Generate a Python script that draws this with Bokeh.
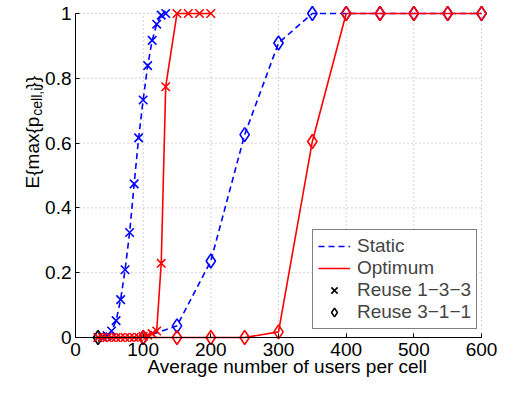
import math
from bokeh.plotting import figure
from bokeh.models import Range1d, Legend, LegendItem, Label, FixedTicker
from bokeh.embed import file_html
from bokeh.resources import INLINE

# ---- data ----
# Reuse 1-3-3 (crosses)
users_133_static = [33.3, 40.0, 46.7, 53.3, 60.0, 66.7, 73.3, 80.0, 86.7, 93.3,
                    100.0, 106.7, 113.3, 120.0, 126.7, 133.3]
static_133 = [0.0, 0.002, 0.006, 0.02, 0.052, 0.117, 0.209, 0.324, 0.474, 0.616,
              0.733, 0.839, 0.917, 0.967, 0.995, 1.0]
users_133_opt = [33.3, 40.0, 46.7, 53.3, 60.0, 66.7, 73.3, 80.0, 86.7, 93.3,
                 100.0, 106.7, 113.3, 120.0, 126.7, 133.3, 150.0, 166.7, 183.3, 200.0]
optimum_133 = [0.0, 0.0, 0.0, 0.0, 0.0, 0.0, 0.0, 0.0, 0.0, 0.001,
               0.003, 0.007, 0.012, 0.02, 0.229, 0.774, 1.0, 1.0, 1.0, 1.0]
# Reuse 3-1-1 (diamonds)
users_311 = [100, 150, 200, 250, 300, 350, 400, 450, 500, 550, 600]
static_311 = [0.0, 0.036, 0.236, 0.626, 0.909, 1.0, 1.0, 1.0, 1.0, 1.0, 1.0]
optimum_311 = [0.0, 0.0, 0.0, 0.0, 0.0175, 0.605, 1.0, 1.0, 1.0, 1.0, 1.0]
# legend marker points (placed at the first data point, drawn in black)
legend_x = [33.3]
legend_y = [0.0]

x_ticks = [0, 100, 200, 300, 400, 500, 600]
y_ticks = [0, 0.2, 0.4, 0.6, 0.8, 1]
y_tick_labels = ["0", "0.2", "0.4", "0.6", "0.8", "1"]

series_names = ["Static", "Optimum", "Reuse 1\u22123\u22123", "Reuse 3\u22121\u22121"]
x_label = "Average number of users per cell"

BLUE = "#0000ff"
RED = "#ff0000"
FONT = "Liberation Sans"
FS = "19px"

# The frame covers the whole canvas; axes are drawn at fixed locations (x=0, y=0)
p = figure(width=497, height=378,
           x_range=Range1d(-110.8, 623.6), y_range=Range1d(-0.1265, 1.0401),
           output_backend="svg", toolbar_location=None,
           min_border_left=0, min_border_right=0, min_border_top=0,
           min_border_bottom=0)
p.outline_line_color = None
p.xgrid.visible = False
p.ygrid.visible = False
p.background_fill_color = "white"
p.border_fill_color = "white"

# dotted grid from tick lists
grid_kw = dict(line_color="#a8a8a8", line_width=1, line_dash="1 3")
p.multi_line([[t, t] for t in x_ticks[1:]], [[0, 1] for _ in x_ticks[1:]], **grid_kw)
p.multi_line([[0, 600] for _ in y_ticks[1:]], [[t, t] for t in y_ticks[1:]], **grid_kw)

# axes
for ax in (p.xaxis[0], p.yaxis[0]):
    ax.axis_line_color = "black"
    ax.axis_line_width = 1
    ax.major_tick_line_color = "black"
    ax.major_tick_in = 4
    ax.major_tick_out = 0
    ax.minor_tick_line_color = None
    ax.major_label_text_font = FONT
    ax.major_label_text_font_size = FS
    ax.major_label_text_color = "black"
    ax.fixed_location = 0
p.xaxis.ticker = FixedTicker(ticks=x_ticks)
p.yaxis.ticker = FixedTicker(ticks=y_ticks)
p.xaxis.bounds = (0, 600)
p.yaxis.bounds = (0, 1)
p.xaxis.major_label_standoff = 5
p.yaxis.major_label_standoff = 4
p.yaxis.major_label_overrides = {t: l for t, l in zip(y_ticks, y_tick_labels)}

lw = 1.6
XS = 12
DS = 14
# static (blue, dashed)
s1 = p.line(users_133_static, static_133, line_color=BLUE, line_width=lw, line_dash="6 4")
p.scatter(users_133_static, static_133, marker="x", size=XS, line_color=BLUE, line_width=1.6)
p.line(users_311, static_311, line_color=BLUE, line_width=lw, line_dash="6 4")
p.scatter(users_311, static_311, marker="diamond", size=DS, line_color=BLUE, fill_color=None, line_width=1.6)

# legend markers (black)
lx = p.scatter(legend_x, legend_y, marker="x", size=XS - 2, line_color="black", line_width=1.6)
ld = p.scatter(legend_x, legend_y, marker="diamond", size=DS, line_color="black", fill_color=None, line_width=1.6)

# optimum (red, solid)
o1 = p.line(users_133_opt, optimum_133, line_color=RED, line_width=lw)
p.scatter(users_133_opt, optimum_133, marker="x", size=XS, line_color=RED, line_width=1.6)
p.line(users_311, optimum_311, line_color=RED, line_width=lw)
p.scatter(users_311, optimum_311, marker="diamond", size=DS, line_color=RED, fill_color=None, line_width=1.6)

legend = Legend(items=[LegendItem(label=series_names[0], renderers=[s1]),
                       LegendItem(label=series_names[1], renderers=[o1]),
                       LegendItem(label=series_names[2], renderers=[lx]),
                       LegendItem(label=series_names[3], renderers=[ld])],
                location=(312, 49), margin=0, padding=5, spacing=0,
                glyph_width=32, glyph_height=22, label_height=22, label_standoff=7,
                label_text_font=FONT, label_text_font_size=FS,
                border_line_color="black", border_line_width=1,
                background_fill_color="white", background_fill_alpha=1.0)
p.add_layout(legend)

# x axis label
p.add_layout(Label(x=313, y=-0.089, text=x_label, text_align="center",
                   text_baseline="alphabetic", text_font=FONT, text_font_size=FS,
                   text_color="black"))
# y axis label: E{max{p_cell,i}}
ang = math.pi / 2
p.add_layout(Label(x=-64.0, y=0.46, text="E{max{p", angle=ang, text_align="left",
                   text_baseline="alphabetic", text_font=FONT, text_font_size=FS,
                   text_color="black"))
p.add_layout(Label(x=-57.6, y=0.6845, text="cell,i", angle=ang, text_align="left",
                   text_baseline="alphabetic", text_font=FONT, text_font_size="14px",
                   text_color="black"))
p.add_layout(Label(x=-64.0, y=0.768, text="}}", angle=ang, text_align="left",
                   text_baseline="alphabetic", text_font=FONT, text_font_size=FS,
                   text_color="black"))

open("out.html", "w").write(file_html(p, INLINE))
